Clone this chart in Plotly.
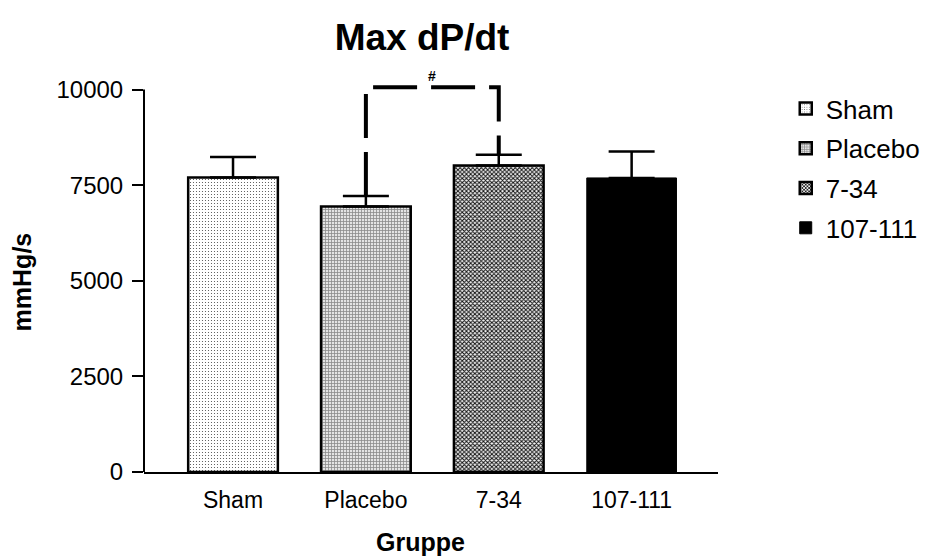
import plotly.graph_objects as go

categories = ["Sham", "Placebo", "7-34", "107-111"]
means = [7700, 6945, 8015, 7690]
sem = [535, 270, 280, 690]
y_ticks = [0, 2500, 5000, 7500, 10000]
sig_pair = ("Placebo", "7-34")
sig_label = "#"

FONT = "Liberation Sans, Arial, sans-serif"

styles = [
    dict(color="white", pattern=dict(shape=".", fgcolor="#4a4a4a", bgcolor="white", size=3, solidity=0.12, fillmode="replace"), line=dict(color="black", width=2.5)),
    dict(color="#d8d8d8", pattern=dict(shape="+", fgcolor="#8a8a8a", bgcolor="#e4e4e4", size=3, solidity=0.45, fillmode="replace"), line=dict(color="black", width=2.5)),
    dict(color="#888888", pattern=dict(shape="x", fgcolor="#111111", bgcolor="#f2f2f2", size=3, solidity=0.55, fillmode="replace"), line=dict(color="black", width=2.5)),
    dict(color="black", line=dict(color="black", width=1)),
]

fig = go.Figure()
xs = list(range(len(categories)))
for i, cat in enumerate(categories):
    fig.add_trace(go.Bar(
        x=[xs[i]], y=[means[i]], name=cat, width=0.675,
        marker=styles[i], legendgroup=cat,
        error_y=dict(type="data", array=[sem[i]], arrayminus=[0], symmetric=False,
                     color="black", thickness=2.5, width=23),
    ))

# significance bracket
i0 = categories.index(sig_pair[0])
i1 = categories.index(sig_pair[1])
top = 10060
path = (f"M {i0},{means[i0] + sem[i0]} L {i0},{top} L {i1},{top} L {i1},{means[i1] + sem[i1]}")
fig.add_shape(type="path", path=path, xref="x", yref="y",
              line=dict(color="black", width=4, dash="44px,14px"))
fig.add_annotation(x=(i0 + i1) / 2, y=top, xref="x", yref="y", text=f"<b>{sig_label}</b>",
                   showarrow=False, yanchor="bottom", yshift=1, xshift=0,
                   font=dict(size=14, color="black", family=FONT))
# y axis line ending at last tick
fig.add_shape(type="line", xref="paper", yref="y", x0=0, x1=0, y0=0, y1=y_ticks[-1],
              line=dict(color="black", width=2))

# axis titles
fig.add_annotation(text="<b>Gruppe</b>", xref="paper", yref="paper", x=0.481, y=-0.182,
                   xanchor="center", yanchor="middle", showarrow=False,
                   font=dict(size=25, family=FONT, color="black"))
fig.add_annotation(text="<b>mmHg/s</b>", xref="paper", yref="paper", x=-0.2125, y=0.49,
                   xanchor="center", yanchor="middle", showarrow=False, textangle=-90,
                   font=dict(size=25, family=FONT, color="black"))

W, H = 932, 550
fig.update_layout(
    width=W, height=H,
    margin=dict(l=136, r=222, t=77, b=86, autoexpand=False),
    paper_bgcolor="white", plot_bgcolor="white",
    font=dict(family=FONT, color="black"),
    title=dict(text="<b>Max dP/dt</b>", x=414 / W, xref="container", xanchor="center",
               y=1 - 29 / H, yref="container", yanchor="middle",
               font=dict(size=37, family=FONT, color="black")),
    showlegend=True,
    legend=dict(x=1.118, y=1.0, xanchor="left", yanchor="top",
                font=dict(size=26, family=FONT, color="black"),
                traceorder="grouped", tracegroupgap=3, bgcolor="rgba(0,0,0,0)"),
    bargap=0.3,
)
fig.update_xaxes(
    range=[-0.67, 3.65], tickvals=xs, ticktext=categories, automargin=False,
    showline=True, linecolor="black", linewidth=2, ticks="", showgrid=False, zeroline=False,
    tickfont=dict(size=23, family=FONT, color="black"), ticklabelstandoff=6,
)
fig.update_yaxes(
    range=[0, 10120], tickvals=y_ticks, ticktext=[str(v) for v in y_ticks], automargin=False,
    showline=False, ticks="outside", ticklen=11, tickwidth=2, tickcolor="black",
    showgrid=False, zeroline=False, ticklabelstandoff=4,
    tickfont=dict(size=24, family=FONT, color="black"),
)

fig.write_html("out.html")
